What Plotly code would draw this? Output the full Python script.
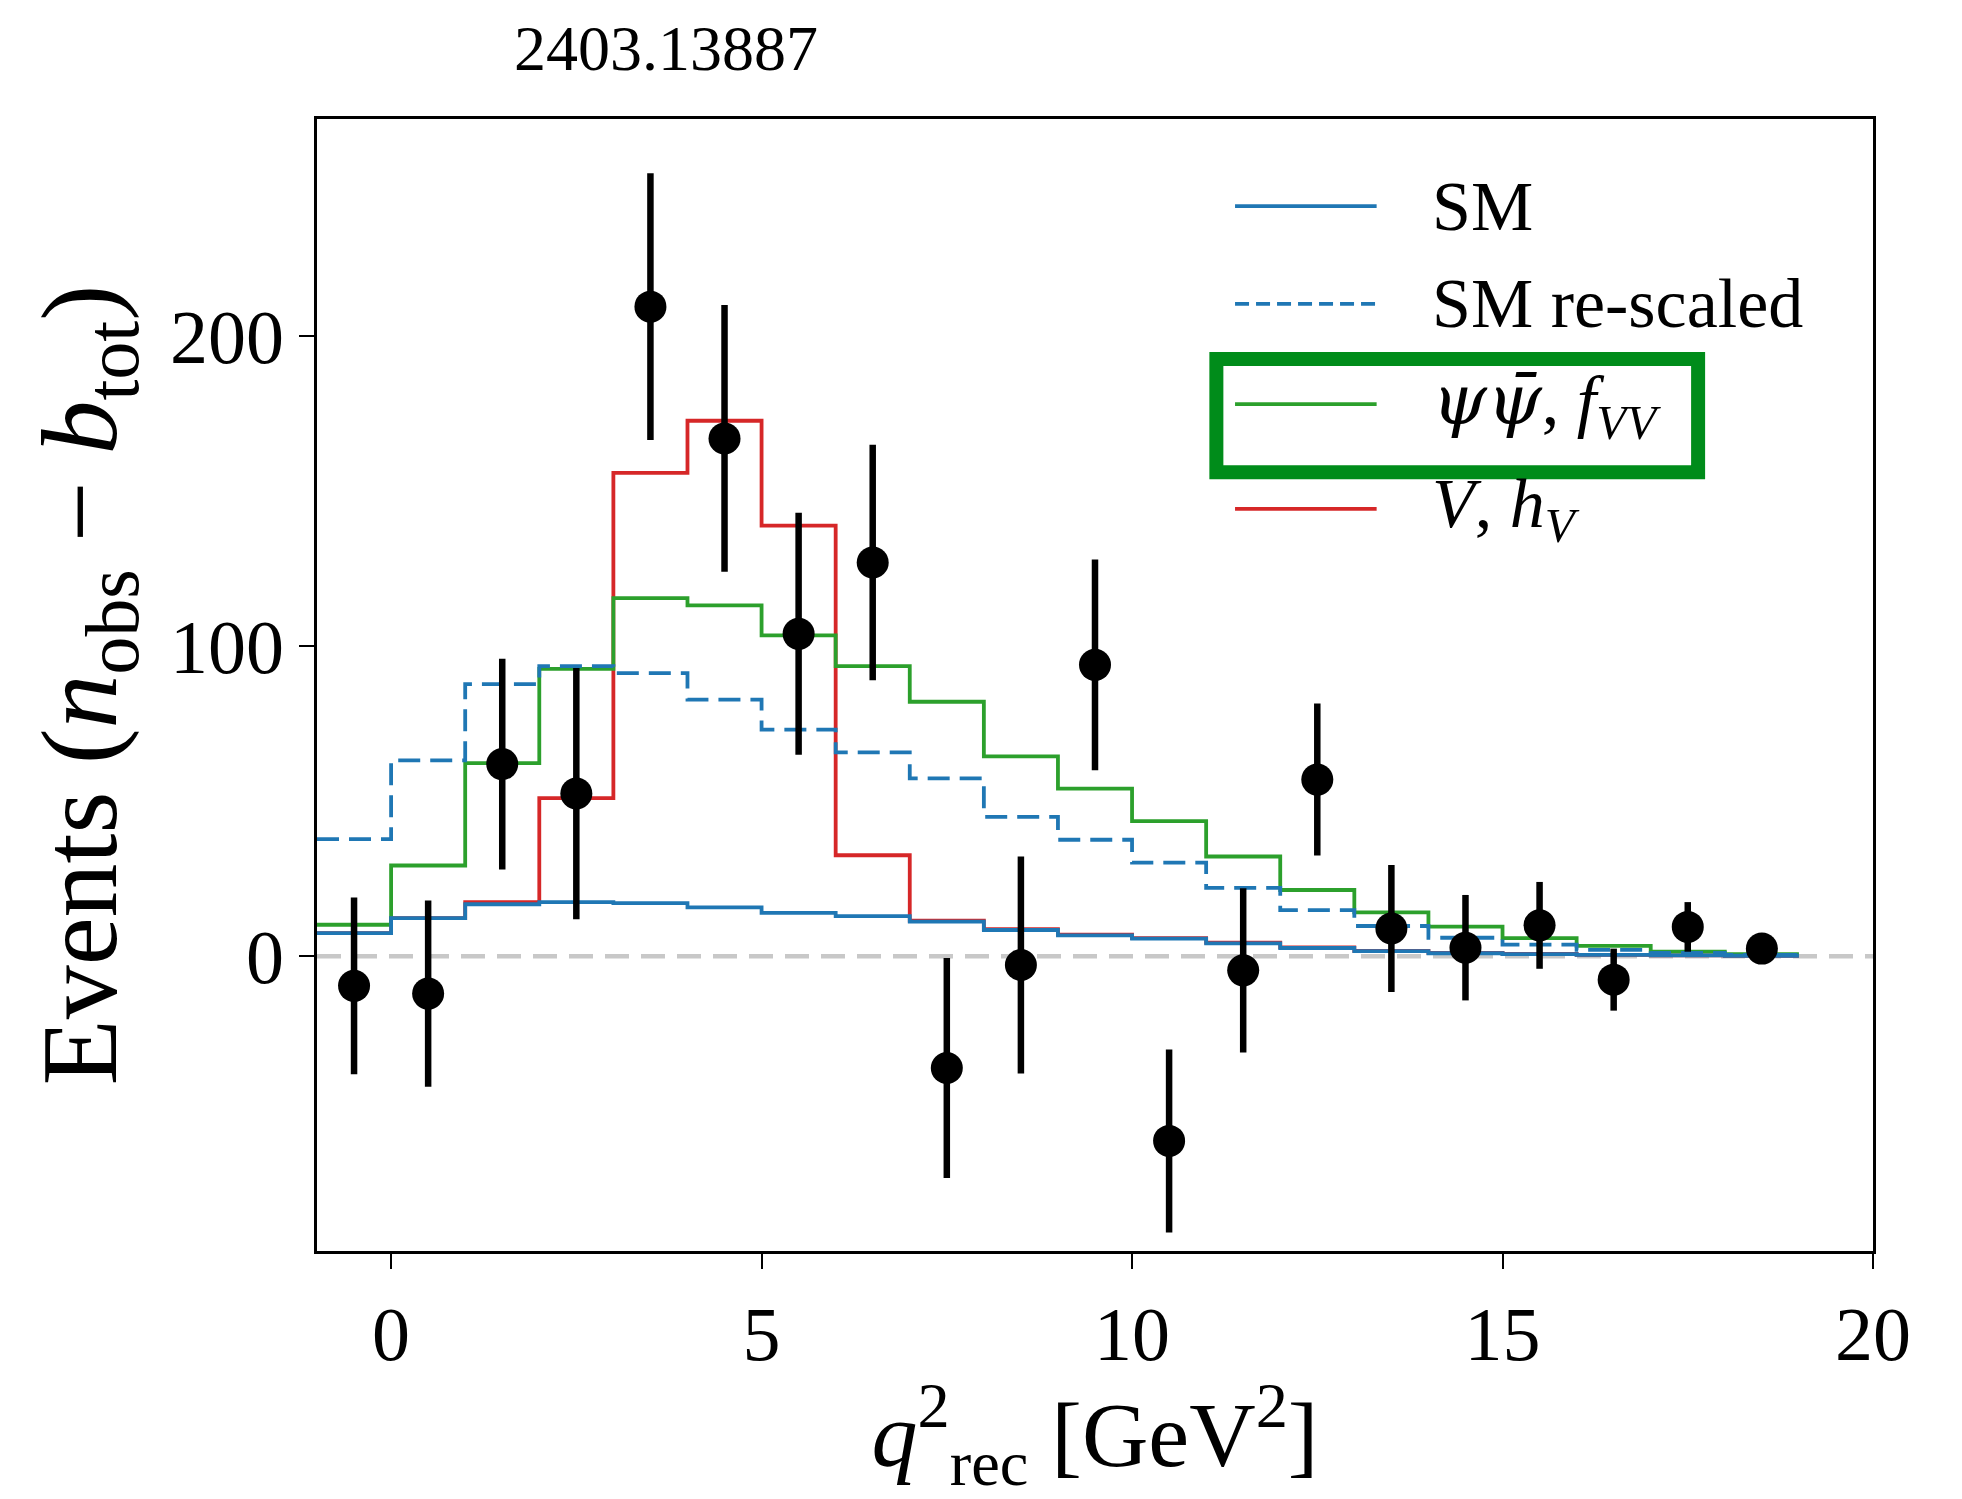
import plotly.graph_objects as go

# ---------------- data ----------------
bin_edges = [-1, 0, 1, 2, 3, 4, 5, 6, 7, 8, 9, 10, 11, 12, 13, 14, 15, 16, 17, 18, 19]
bin_centers = [-0.5, 0.5, 1.5, 2.5, 3.5, 4.5, 5.5, 6.5, 7.5, 8.5, 9.5,
               10.5, 11.5, 12.5, 13.5, 14.5, 15.5, 16.5, 17.5, 18.5]

sm = [7.5, 12.3, 16.8, 17.5, 17.2, 15.8, 14.0, 13.0, 11.2, 8.5, 6.8,
      5.7, 4.2, 2.7, 1.7, 1.0, 0.7, 0.5, 0.3, 0.2]
sm_rescaled = [37.8, 63.2, 87.8, 93.6, 91.3, 82.8, 73.1, 65.8, 57.4, 45.0, 37.6,
               30.2, 22.1, 14.9, 9.8, 6.0, 3.8, 2.1, 1.1, 0.5]
psi_fvv = [10.2, 29.3, 62.3, 92.7, 115.5, 113.2, 103.5, 93.6, 82.1, 64.5, 54.1,
           43.6, 32.2, 21.4, 14.2, 9.6, 5.9, 3.4, 1.5, 0.7]
v_hv = [7.5, 12.3, 17.5, 51.0, 155.9, 172.7, 138.9, 32.6, 11.5, 8.8, 7.0,
        5.9, 4.4, 2.9, 1.8, 1.1, 0.8, 0.5, 0.3, 0.2]

data_y = [-9.5, -12.0, 62.0, 52.5, 209.5, 167.0, 104.0, 127.0, -36.0, -2.8,
          94.0, -59.5, -4.5, 57.0, 9.0, 2.8, 10.0, -7.5, 9.5, 2.5]
data_err = [28.5, 30.0, 34.0, 40.5, 43.0, 43.0, 39.0, 38.0, 35.5, 35.0,
            34.0, 29.5, 26.5, 24.5, 20.5, 17.0, 14.0, 10.0, 8.0, 3.0]

legend_labels = ["SM", "SM re-scaled",
                 "<span style='font-family:DejaVu Serif'><i>ψψ̄</i></span>, <i>f</i><sub><i>VV</i></sub>",
                 "<i>V</i>, <i>h</i><sub><i>V</i></sub>"]

x_ticks = [0, 5, 10, 15, 20]
y_ticks = [0, 100, 200]

# ---------------- style ----------------
C_BLUE = "#1f77b4"
C_GREEN = "#2ca02c"
C_RED = "#d62728"
FONT = "Liberation Serif"


def step(vals):
    return vals + [vals[-1]]


fig = go.Figure()

hist_specs = [
    (v_hv, C_RED, "solid", legend_labels[3]),
    (psi_fvv, C_GREEN, "solid", legend_labels[2]),
    (sm_rescaled, C_BLUE, "22px,10px", legend_labels[1]),
    (sm, C_BLUE, "solid", legend_labels[0]),
]
for vals, col, dash, name in hist_specs:
    fig.add_trace(go.Scatter(
        x=bin_edges, y=step(vals), mode="lines",
        line=dict(color=col, width=3.8, dash=dash, shape="hv"),
        name=name, showlegend=False, hoverinfo="skip"))

fig.add_trace(go.Scatter(
    x=bin_centers, y=data_y, mode="markers",
    marker=dict(color="black", size=32),
    error_y=dict(type="data", array=data_err, color="black", thickness=6.5, width=0),
    showlegend=False, name="data"))

# zero reference line
fig.add_shape(type="line", xref="paper", yref="y", x0=0, x1=1, y0=0, y1=0,
              line=dict(color="#c8c8c8", width=4.5, dash="24px,12px"), layer="below")

# manual legend (long line samples like matplotlib)
leg_rows_y = [0.923, 0.8366, 0.7482, 0.6555]
leg_styles = [(C_BLUE, "solid"), (C_BLUE, "14px,7px"), (C_GREEN, "solid"), (C_RED, "solid")]
for (col, dash), yy, lab in zip(leg_styles, leg_rows_y, legend_labels):
    fig.add_shape(type="line", xref="paper", yref="paper", x0=0.590, x1=0.681,
                  y0=yy, y1=yy, line=dict(color=col, width=3.8, dash=dash))
    fig.add_annotation(xref="paper", yref="paper", x=0.7154, y=yy, text=lab,
                       showarrow=False, xanchor="left", yanchor="middle",
                       font=dict(family=FONT, size=70, color="black"))

# hand-drawn green highlight box
fig.add_shape(type="rect", xref="paper", yref="paper",
              x0=0.578, x1=0.8876, y0=0.688, y1=0.788,
              line=dict(color="#008c1a", width=14), fillcolor="rgba(0,0,0,0)")

# title text
fig.add_annotation(xref="paper", yref="paper", x=(666 - 316.6) / 1556.4,
                   y=(1251 - 48) / 1132, text="2403.13887", showarrow=False,
                   xanchor="center", yanchor="middle",
                   font=dict(family=FONT, size=64, color="black"))

fig.update_layout(
    width=1962, height=1499,
    margin=dict(l=317, r=89, t=119, b=248),
    paper_bgcolor="white", plot_bgcolor="white",
    font=dict(family=FONT, color="black"),
    xaxis=dict(range=[-1, 20], tickvals=x_ticks, ticks="outside", ticklen=15,
               tickwidth=2, tickcolor="black", showline=True, linecolor="black",
               linewidth=2.5, mirror=True, showgrid=False, zeroline=False,
               tickfont=dict(family=FONT, size=76),
               title=dict(text="<i>q</i><sup>2</sup><sub>rec</sub> [GeV<sup>2</sup>]",
                          font=dict(family=FONT, size=92), standoff=28)),
    yaxis=dict(range=[-95, 270], tickvals=y_ticks, ticks="outside", ticklen=15,
               tickwidth=2, tickcolor="black", showline=True, linecolor="black",
               linewidth=2.5, mirror=True, showgrid=False, zeroline=False,
               tickfont=dict(family=FONT, size=76),
               title=dict(text="Events (<i>n</i><sub>obs</sub> − <i>b</i><sub>tot</sub>)",
                          font=dict(family=FONT, size=108), standoff=18)),
)

fig.write_html("out.html")
